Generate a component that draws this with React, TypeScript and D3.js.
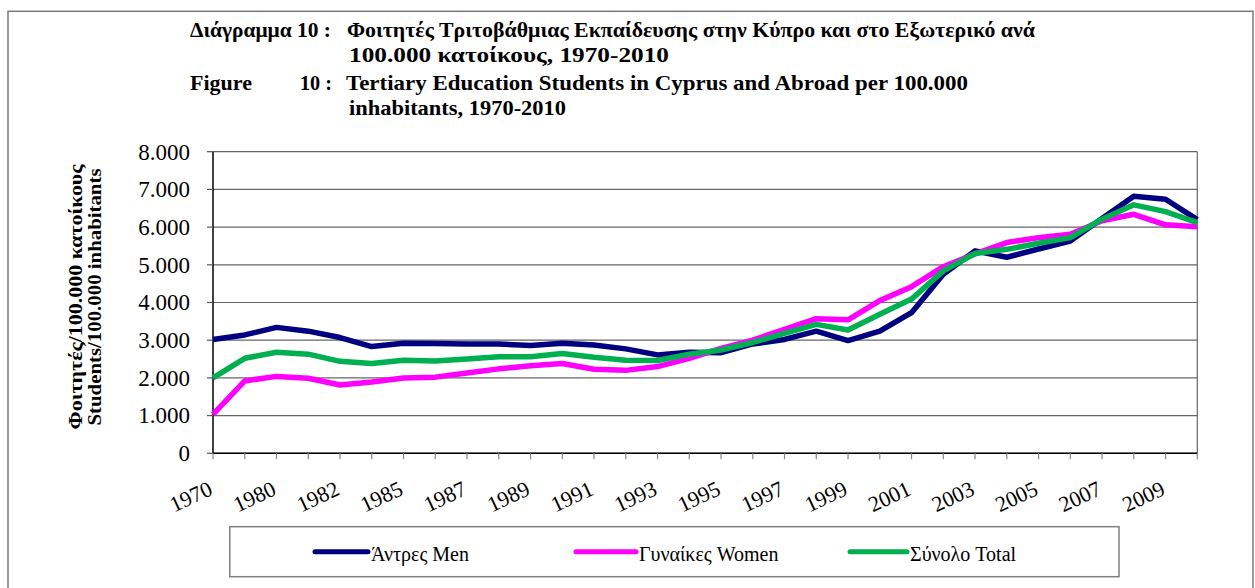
import React from "react";
import { scaleLinear, line } from "d3";

// categories on the x axis (only every other one is labelled)
const years = [
  "1970", "1975", "1980", "1981", "1982", "1983", "1985", "1986", "1987", "1988",
  "1989", "1990", "1991", "1992", "1993", "1994", "1995", "1996", "1997", "1998",
  "1999", "2000", "2001", "2002", "2003", "2004", "2005", "2006", "2007", "2008",
  "2009", "2010",
];

const men = [
  3020, 3140, 3340, 3240, 3070, 2830, 2920, 2910, 2900, 2900,
  2860, 2920, 2870, 2770, 2610, 2680, 2670, 2900, 3020, 3240,
  2990, 3240, 3730, 4750, 5370, 5200, 5420, 5630, 6230, 6820,
  6740, 6200,
];

const women = [
  1030, 1920, 2040, 1990, 1810, 1890, 2000, 2020, 2130, 2240,
  2320, 2380, 2230, 2200, 2300, 2520, 2780, 3000, 3290, 3570,
  3540, 4050, 4420, 4950, 5290, 5590, 5720, 5810, 6170, 6340,
  6060, 6010,
];

const total = [
  2000, 2520, 2680, 2630, 2440, 2380, 2470, 2450, 2500, 2560,
  2560, 2650, 2550, 2470, 2460, 2630, 2740, 2940, 3180, 3420,
  3270, 3690, 4090, 4840, 5300, 5410, 5570, 5720, 6210, 6590,
  6410, 6120,
];

const yTicks = [0, 1000, 2000, 3000, 4000, 5000, 6000, 7000, 8000];

const series = [
  { name: "Άντρες Men", values: men, color: "#000080" },
  { name: "Γυναίκες Women", values: women, color: "#FF00FF" },
  { name: "Σύνολο Total", values: total, color: "#00B050" },
];

const serif = '"Liberation Serif", "Times New Roman", Times, serif';

// thousands separator is a dot in the original
const fmt = (v: number) =>
  v === 0 ? "0" : `${Math.floor(v / 1000)}.${String(v % 1000).padStart(3, "0")}`;

export default function App() {
  const left = 213;
  const right = 1197.3;
  const top = 151.7;
  const bottom = 453.3;

  const x = scaleLinear().domain([0, years.length - 1]).range([left, right]);
  const y = scaleLinear().domain([0, 8000]).range([bottom, top]);

  const path = line<number>()
    .x((_, i) => x(i))
    .y((d) => y(d));

  const legendItems = [
    { lx1: 315, lx2: 368, tx: 371 },
    { lx1: 576, lx2: 636, tx: 639 },
    { lx1: 850, lx2: 907, tx: 910 },
  ];

  return (
    <svg
      width={1255}
      height={588}
      style={{ position: "absolute", left: 0, top: 0, display: "block", background: "#fff", fontFamily: serif }}
    >
      {/* outer frame */}
      <rect x={8} y={11.3} width={1245} height={600} fill="none" stroke="#7a7a7a" strokeWidth={1.5} />

      {/* title */}
      <g fontWeight="bold" fontSize={22} fill="#000" style={{ fontFamily: serif }}>
        <text x={190} y={37} textLength={141} lengthAdjust="spacingAndGlyphs">Διάγραμμα 10 :</text>
        <text x={347} y={37} textLength={688} lengthAdjust="spacingAndGlyphs">
          Φοιτητές Τριτοβάθμιας Εκπαίδευσης στην Κύπρο και στο Εξωτερικό ανά
        </text>
        <text x={349} y={62} textLength={320} lengthAdjust="spacingAndGlyphs">100.000  κατοίκους, 1970-2010</text>
        <text x={190} y={90} textLength={62} lengthAdjust="spacingAndGlyphs">Figure</text>
        <text x={300} y={90} textLength={32} lengthAdjust="spacingAndGlyphs">10 :</text>
        <text x={346} y={90} textLength={622} lengthAdjust="spacingAndGlyphs">
          Tertiary Education Students in Cyprus and Abroad per 100.000
        </text>
        <text x={349} y={115} textLength={217} lengthAdjust="spacingAndGlyphs">inhabitants, 1970-2010</text>
      </g>

      {/* grid lines */}
      {yTicks.map((t) => (
        <line key={t} x1={left} x2={right} y1={y(t)} y2={y(t)} stroke="#666" strokeWidth={1.2} />
      ))}
      {/* plot area right border */}
      <line x1={right} x2={right} y1={top} y2={bottom} stroke="#666" strokeWidth={1.2} />

      {/* y axis */}
      <line x1={left} x2={left} y1={top} y2={bottom} stroke="#000" strokeWidth={1.5} />
      {yTicks.map((t) => (
        <g key={t}>
          <line x1={left - 6} x2={left} y1={y(t)} y2={y(t)} stroke="#555" strokeWidth={1.2} />
          <text x={190} y={y(t)} dy="0.34em" textAnchor="end" fontSize={23} style={{ fontFamily: serif }}>
            {fmt(t)}
          </text>
        </g>
      ))}

      {/* x axis */}
      <line x1={left} x2={right} y1={bottom} y2={bottom} stroke="#000" strokeWidth={1.5} />
      {years.map((yr, i) => (
        <g key={yr}>
          <line x1={x(i)} x2={x(i)} y1={bottom} y2={bottom + 6} stroke="#888" strokeWidth={1.2} />
          {i % 2 === 0 && (
            <text
              transform={`translate(${x(i) + 1},494) rotate(-25)`}
              textAnchor="end"
              fontSize={22}
              style={{ fontFamily: serif }}
            >
              {yr}
            </text>
          )}
        </g>
      ))}

      {/* y axis title */}
      <g fontWeight="bold" fontSize={18} textAnchor="middle" style={{ fontFamily: serif }}>
        <text transform="translate(82,297) rotate(-90)" textLength={265} lengthAdjust="spacingAndGlyphs">
          Φοιτητές/100.000 κατοίκους
        </text>
        <text transform="translate(101,297) rotate(-90)" textLength={257} lengthAdjust="spacingAndGlyphs">
          Students/100.000 inhabitants
        </text>
      </g>

      {/* series */}
      {series.map((s) => (
        <path
          key={s.name}
          d={path(s.values) ?? ""}
          fill="none"
          stroke={s.color}
          strokeWidth={5.5}
          strokeLinejoin="round"
        />
      ))}

      {/* legend */}
      <rect x={229.8} y={526.7} width={889.2} height={50} fill="#fff" stroke="#808080" strokeWidth={1.5} />
      {series.map((s, i) => (
        <g key={s.name}>
          <line
            x1={legendItems[i].lx1}
            x2={legendItems[i].lx2}
            y1={551.7}
            y2={551.7}
            stroke={s.color}
            strokeWidth={5}
            strokeLinecap="round"
          />
          <text x={legendItems[i].tx} y={560.5} fontSize={20} style={{ fontFamily: serif }}>
            {s.name}
          </text>
        </g>
      ))}
    </svg>
  );
}
